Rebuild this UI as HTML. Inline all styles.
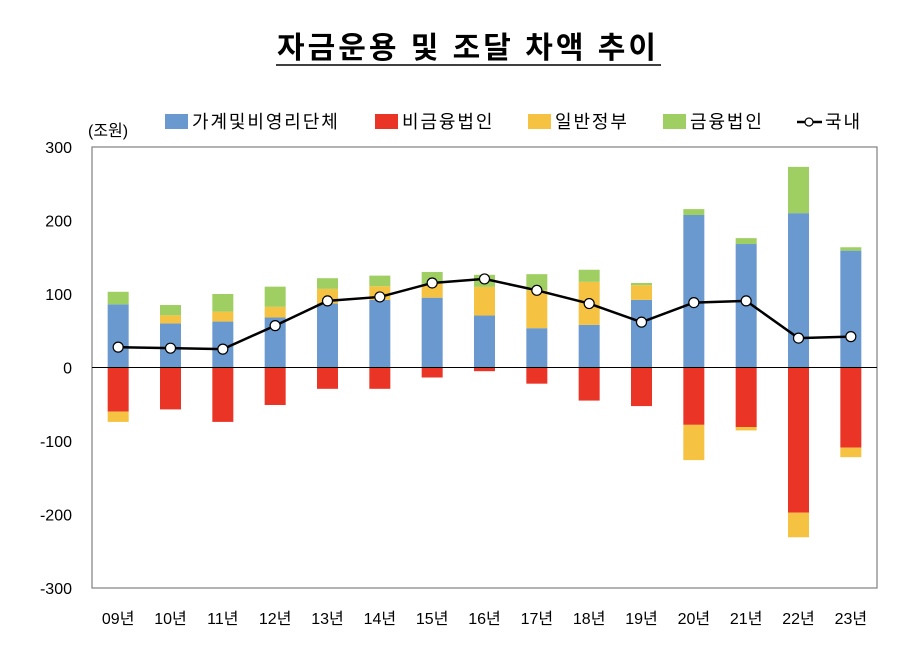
<!DOCTYPE html>
<html><head><meta charset="utf-8">
<style>
body{margin:0;background:#fff;}
svg text{font-family:"Liberation Sans","Noto Sans CJK KR",sans-serif;}
.lg{font-size:18px;letter-spacing:1.9px;}
</style></head>
<body>
<svg id="chart" width="910" height="646" xmlns="http://www.w3.org/2000/svg">
<text x="468" y="58" text-anchor="middle" font-size="30" font-weight="bold" letter-spacing="3" fill="#000">자금운용 및 조달 차액 추이</text>
<line x1="276" y1="65" x2="661" y2="65" stroke="#000" stroke-width="1.5"/>
<text x="88" y="136" font-size="16" fill="#000">(조원)</text>
<g>
<rect x="165" y="114" width="23" height="15" fill="#6a99cf"/>
<text class="lg" x="192" y="128">가계및비영리단체</text>
<rect x="375" y="114" width="23" height="15" fill="#e93426"/>
<text class="lg" x="402" y="128">비금융법인</text>
<rect x="528" y="114" width="23" height="15" fill="#f5c242"/>
<text class="lg" x="555" y="128">일반정부</text>
<rect x="663" y="114" width="23" height="15" fill="#9fcf62"/>
<text class="lg" x="690" y="128">금융법인</text>
<line x1="797" y1="122" x2="822" y2="122" stroke="#000" stroke-width="2.5"/>
<circle cx="809" cy="122" r="4" fill="#fff" stroke="#000" stroke-width="1.2"/>
<text class="lg" x="825" y="128">국내</text>
</g>
<rect x="92" y="147" width="785" height="441" fill="none" stroke="#808080" stroke-width="1.2"/>
<g id="bars"></g>
<g id="axes"></g>
<g id="line"></g>
</svg>
<script>
const categories=["09년","10년","11년","12년","13년","14년","15년","16년","17년","18년","19년","20년","21년","22년","23년"];
const household=[86,60,62.5,68,87,92,95,70.7,53.5,58,92,207.5,168,210,159];
const govPos=[0,11,13.5,14.5,20,18.6,19,39,51.5,58.5,20,0,0,0,0];
const finCorp=[17,14,24,27.5,14.5,14.4,16,16.4,22,16.5,3,8,8,63,4.6];
const nonFinCorp=[-60,-57,-74,-51,-29,-29,-13.6,-5,-22,-45,-52.5,-78,-81,-197.5,-109];
const govNeg=[-14,0,0,0,0,0,0,0,0,0,0,-48,-4.6,-33.5,-13];
const domestic=[27.7,26.3,25,57,90.6,96,115,120.5,105,87,61.7,88.3,90.6,40,42];
const yTicks=[300,200,100,0,-100,-200,-300];

const NS="http://www.w3.org/2000/svg";
const plotL=92,plotR=877,plotT=147,plotB=588,yMax=300,yMin=-300;
const step=(plotR-plotL)/categories.length,barW=21;
function y(v){return plotT+(yMax-v)/(yMax-yMin)*(plotB-plotT);}
function xc(i){return plotL+step*(i+0.5);}
function mk(tag,attrs,parent){const e=document.createElementNS(NS,tag);for(const k in attrs)e.setAttribute(k,attrs[k]);parent.appendChild(e);return e;}

const bars=document.getElementById('bars'),axes=document.getElementById('axes'),line=document.getElementById('line');
function seg(i,v0,v1,color,name){
  if(v0===v1)return;
  const r=mk('rect',{x:xc(i)-barW/2,y:Math.min(y(v0),y(v1)),width:barW,height:Math.abs(y(v1)-y(v0)),fill:color},bars);
  
  
}
categories.forEach((c,i)=>{
  seg(i,0,household[i],'#6a99cf','household');
  seg(i,household[i],household[i]+govPos[i],'#f5c242','government');
  seg(i,household[i]+govPos[i],household[i]+govPos[i]+finCorp[i],'#9fcf62','fin-corp');
  seg(i,0,nonFinCorp[i],'#e93426','nonfin-corp');
  seg(i,nonFinCorp[i],nonFinCorp[i]+govNeg[i],'#f5c242','government-neg');
  const t=mk('text',{x:xc(i),y:624,'text-anchor':'middle','font-size':'16'},axes);
  t.textContent=c;
  
  
});
const zl=mk('line',{x1:plotL,x2:plotR,y1:y(0),y2:y(0),stroke:'#000','stroke-width':1},axes);


yTicks.forEach(v=>{
  const t=mk('text',{x:72,y:y(v)+6,'text-anchor':'end','font-size':'16'},axes);
  t.textContent=v;
  
  
});
const pts=domestic.map((v,i)=>xc(i)+','+y(v)).join(' ');
const pl=mk('polyline',{points:pts,fill:'none',stroke:'#000','stroke-width':2.5},line);


domestic.forEach((v,i)=>{
  const c=mk('circle',{cx:xc(i),cy:y(v),r:5,fill:'#fff',stroke:'#000','stroke-width':1.2},line);
  
  
});
</script>
</body></html>
